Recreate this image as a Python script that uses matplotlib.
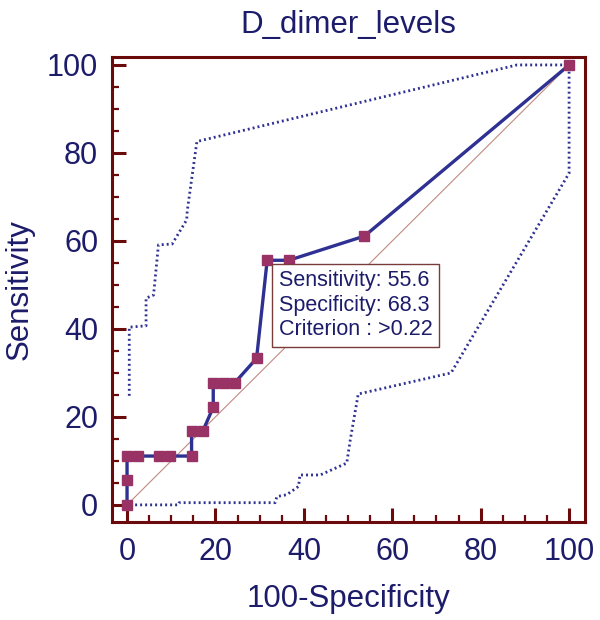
import numpy as np
import matplotlib
matplotlib.use("Agg")
import matplotlib.pyplot as plt
from matplotlib.ticker import MultipleLocator

plt.rcParams["font.family"] = ["Liberation Sans", "DejaVu Sans"]

# ROC points (100-Specificity, Sensitivity)
fpr = [0, 0, 0, 2.4, 7.3, 9.8, 14.6, 14.6, 17.1, 19.5, 19.5, 22.0, 24.4,
       29.3, 31.7, 36.6, 53.7, 100]
tpr = [0, 5.6, 11.1, 11.1, 11.1, 11.1, 11.1, 16.7, 16.7, 22.2, 27.8, 27.8,
       27.8, 33.3, 55.6, 55.6, 61.1, 100]

# confidence bounds
upper_x = [0.5, 0.5, 4.3, 4.3, 6.0, 7.1, 10.2, 13.5, 13.6, 15.8, 88.2, 100]
upper_y = [24.8, 40.4, 40.7, 47.0, 47.7, 59.1, 59.3, 64.8, 66.7, 82.6, 100, 100]
lower_x = [0.7, 11.6, 11.8, 33.5, 33.9, 36.1, 38.8, 39.1, 43.7, 49.7, 50.5,
           52.3, 73.3, 100, 100]
lower_y = [0, 0, 0.5, 0.5, 1.9, 2.3, 4.2, 6.8, 6.8, 9.5, 14.8, 25.2, 30.0,
           75.4, 100]

annot_lines = ["Sensitivity: 55.6", "Specificity: 68.3", "Criterion : >0.22"]

NAVY = "#1c1c6b"
FRAME = "#6b0a0a"
LINE = "#2e3192"
MARK = "#993366"

fig = plt.figure(figsize=(6, 6.2), dpi=100)
ax = fig.add_axes([0.1867, 0.158, 0.7883, 0.750])

ax.plot([0, 100], [0, 100], color="#c08a80", lw=0.8, zorder=1)
ax.plot(upper_x, upper_y, color=LINE, lw=2.0, ls=(0, (0.7, 1.1)), zorder=2)
ax.plot(lower_x, lower_y, color=LINE, lw=2.0, ls=(0, (0.7, 1.1)), zorder=2)
ax.plot(fpr, tpr, color=LINE, lw=2.4, zorder=3)
ax.plot(fpr, tpr, ls="none", marker="s", ms=7, color=MARK, zorder=4)

ax.text(34.3, 53.3, "\n".join(annot_lines), fontsize=15.5, color=NAVY,
        va="top", ha="left", linespacing=1.22, zorder=5,
        bbox=dict(boxstyle="square,pad=0.32", fc="white", ec="#7a3b3b", lw=1))

ax.set_xlim(-3.4, 103.6)
ax.set_ylim(-3.9, 101.8)
ax.xaxis.set_major_locator(MultipleLocator(20))
ax.xaxis.set_minor_locator(MultipleLocator(5))
ax.yaxis.set_major_locator(MultipleLocator(20))
ax.yaxis.set_minor_locator(MultipleLocator(5))
ax.tick_params(which="major", direction="in", length=10, width=2.2,
               color=FRAME, labelsize=22, labelcolor=NAVY, pad=11)
ax.tick_params(which="minor", direction="in", length=5, width=1.6, color=FRAME)
ax.tick_params(axis="y", pad=10)
for s in ax.spines.values():
    s.set_color(FRAME)
    s.set_linewidth(2.2)

ax.set_title("D_dimer_levels", fontsize=22.5, color=NAVY, pad=17)
ax.set_xlabel("100-Specificity", fontsize=22.5, color=NAVY, labelpad=12)
ax.set_ylabel("Sensitivity", fontsize=22.5, color=NAVY, labelpad=9)

fig.savefig("out.png", dpi=100)
